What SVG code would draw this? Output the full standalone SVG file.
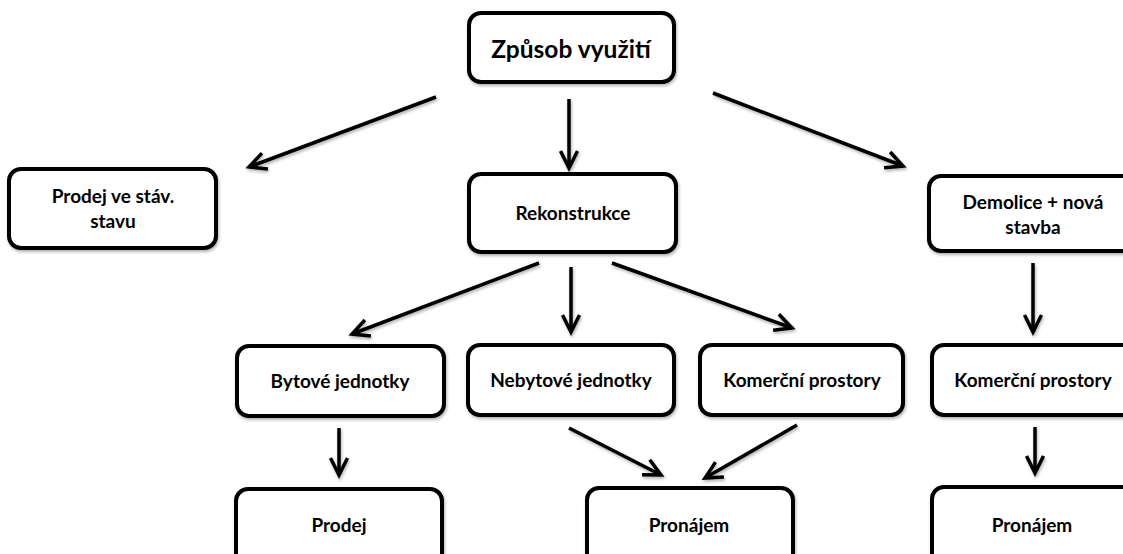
<svg xmlns="http://www.w3.org/2000/svg" width="1123" height="554" viewBox="0 0 1123 554">
<style>
.box{fill:#fff;stroke:#000;stroke-width:4;filter:url(#sh)}
.t{font-family:Lato,"Liberation Sans",sans-serif;font-weight:bold;font-size:19px;fill:#000;text-anchor:middle}
.title{font-size:24.5px}
.c{stroke:#000;stroke-width:3.5;fill:none;marker-end:url(#ah)}
</style>
<defs>
<filter id="sh" x="-10%" y="-10%" width="130%" height="140%">
<feDropShadow dx="1" dy="2" stdDeviation="1.5" flood-color="#000" flood-opacity="0.3"/>
</filter>
<marker id="ah" markerUnits="userSpaceOnUse" markerWidth="24" markerHeight="24" viewBox="0 0 24 24" refX="20" refY="12" orient="auto" overflow="visible">
<path d="M3,3.5 L20,12 L3,20.5" fill="none" stroke="#000" stroke-width="3.5" stroke-linejoin="miter"/>
</marker>
</defs>
<rect width="1123" height="554" fill="#fff"/>
<g id="connectors" filter="url(#sh)">
<line class="c" x1="436" y1="97" x2="249" y2="167"/>
<line class="c" x1="569" y1="99" x2="569" y2="168"/>
<line class="c" x1="713" y1="93" x2="903" y2="166"/>
<line class="c" x1="539" y1="263" x2="352" y2="334"/>
<line class="c" x1="571" y1="267" x2="571" y2="332"/>
<line class="c" x1="612" y1="263" x2="792" y2="328"/>
<line class="c" x1="1033" y1="263" x2="1033" y2="332"/>
<line class="c" x1="339" y1="428" x2="339" y2="475"/>
<line class="c" x1="569" y1="428" x2="661" y2="475"/>
<line class="c" x1="797" y1="425" x2="705" y2="478"/>
<line class="c" x1="1035" y1="427" x2="1035" y2="473"/>
</g>
<g id="zpusob"><rect class="box" x="469" y="13" width="205" height="69" rx="12"/><text class="t title" x="571" y="58">Způsob využití</text></g>
<g id="prodej-stav"><rect class="box" x="9" y="169" width="207" height="79" rx="12"/><text class="t" x="113" y="203">Prodej ve stáv.</text><text class="t" x="113" y="228">stavu</text></g>
<g id="rekonstrukce"><rect class="box" x="469" y="174" width="207" height="78" rx="12"/><text class="t" x="573" y="220">Rekonstrukce</text></g>
<g id="demolice"><rect class="box" x="929" y="176" width="210" height="75" rx="12"/><text class="t" x="1033" y="209">Demolice + nová</text><text class="t" x="1033" y="234">stavba</text></g>
<g id="bytove"><rect class="box" x="237" y="346" width="207" height="70" rx="12"/><text class="t" x="340" y="388">Bytové jednotky</text></g>
<g id="nebytove"><rect class="box" x="468" y="345" width="206" height="70" rx="12"/><text class="t" x="571" y="387">Nebytové jednotky</text></g>
<g id="komercni1"><rect class="box" x="700" y="345" width="203" height="70" rx="12"/><text class="t" x="802" y="387">Komerční prostory</text></g>
<g id="komercni2"><rect class="box" x="932" y="345" width="210" height="70" rx="12"/><text class="t" x="1033" y="387">Komerční prostory</text></g>
<g id="prodej"><rect class="box" x="236" y="489" width="206" height="80" rx="12"/><text class="t" x="339" y="532">Prodej</text></g>
<g id="pronajem"><rect class="box" x="587" y="488" width="206" height="80" rx="12"/><text class="t" x="689" y="532">Pronájem</text></g>
<g id="pronajem2"><rect class="box" x="932" y="487" width="210" height="80" rx="12"/><text class="t" x="1032" y="532">Pronájem</text></g>
</svg>
